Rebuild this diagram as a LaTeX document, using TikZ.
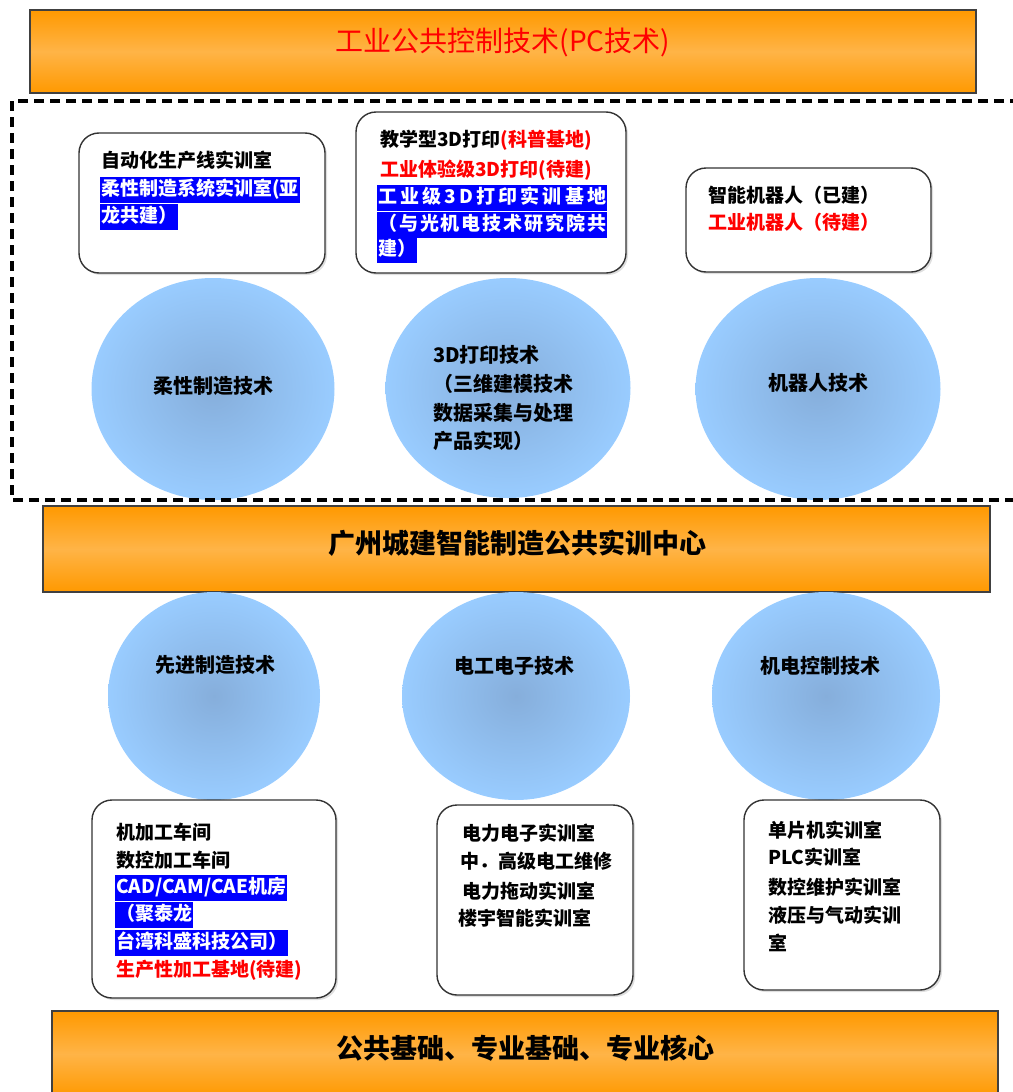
\documentclass[tikz,border=0pt]{standalone}
\usepackage{fontspec}
\setmainfont{Noto Sans CJK SC}
\usetikzlibrary{shapes.geometric,shadows}
\definecolor{barA}{HTML}{FF9900}
\definecolor{barB}{HTML}{FFB447}
\definecolor{ballout}{HTML}{99CCFF}
\definecolor{ballin}{HTML}{86AEDB}
\definecolor{hlblue}{HTML}{0000FF}
\definecolor{redtext}{HTML}{FF0000}
\tikzset{
  bar/.style={draw=black!75, line width=1.2pt, top color=barA, bottom color=barA, middle color=barB, inner sep=0pt},
  bartext/.style={inner sep=0pt, font=\fontsize{27}{30}\selectfont\bfseries},
  ball/.style={ellipse, inner color=ballin, outer color=ballout, draw=none, inner sep=0pt},
  roombox/.style={draw=black!80, line width=1.4pt, rounded corners=20pt, fill=white, inner sep=0pt,
    drop shadow={shadow xshift=2pt, shadow yshift=-2pt, opacity=0.25}},
  txt/.style={anchor=west, inner sep=0pt, font=\fontsize{19}{23}\selectfont\bfseries},
  redline/.style={txt, text=redtext},
  hl/.style={txt, fill=hlblue, text=white, inner xsep=1pt, inner ysep=3pt, text height=15pt, text depth=5pt},
  balltext/.style={inner sep=0pt, font=\fontsize{20}{24}\selectfont\bfseries},
  balltextl/.style={balltext, anchor=west},
  dashline/.style={draw=black, line width=3.4pt, dash pattern=on 10pt off 6pt},
}
\begin{document}
\begin{tikzpicture}[x=1pt, y=-1pt]
\useasboundingbox (0,0) rectangle (1012,1092);

% top bar
\node[bar, minimum width=946pt, minimum height=83pt] (topbar) at (503,51.5) {};
\node[bartext, text=redtext, font=\fontsize{28}{30}\selectfont] (toptext) at (503,42) {工业公共控制技术(PC技术)};

% upper circles
\node[ball, minimum width=243pt, minimum height=222pt] (c1) at (213,389) {};
\node[ball, minimum width=245pt, minimum height=220pt] (c2) at (508,388) {};
\node[ball, minimum width=245pt, minimum height=222pt] (c3) at (818,389) {};
\node[balltext] (c1t) at (213,386) {柔性制造技术};
\node[balltextl] (c2t1) at (433,355) {3D打印技术};
\node[balltextl] (c2t2) at (433,384) {（三维建模技术};
\node[balltextl] (c2t3) at (433,413) {数据采集与处理};
\node[balltextl] (c2t4) at (433,441) {产品实现）};
\node[balltext] (c3t) at (818,383) {机器人技术};

% upper boxes
\node[roombox, minimum width=246pt, minimum height=140pt] (b1) at (202,203) {};
\node[roombox, minimum width=270pt, minimum height=161pt] (b2) at (491,192.5) {};
\node[roombox, minimum width=245pt, minimum height=104pt] (b3) at (808.5,220) {};

\node[txt] (b1l1) at (101,160) {自动化生产线实训室};
\node[hl] (b1l2) at (100,190) {柔性制造系统实训室(亚};
\node[hl] (b1l3) at (100,217) {龙共建）};

\node[txt] (b2l1) at (380,140) {教学型3D打印\textcolor{redtext}{(科普基地)}};
\node[redline] (b2l2) at (380,170) {工业体验级3D打印(待建)};
\node[hl] (b2l3) at (377,198) {\makebox[228pt][s]{工\hfill 业\hfill 级\hfill 3\hfill D\hfill 打\hfill 印\hfill 实\hfill 训\hfill 基\hfill 地}};
\node[hl] (b2l4) at (377,225) {\makebox[228pt][s]{（\hfill 与\hfill 光\hfill 机\hfill 电\hfill 技\hfill 术\hfill 研\hfill 究\hfill 院\hfill 共}};
\node[hl] (b2l5) at (377,250) {建）};

\node[txt] (b3l1) at (708,195) {智能机器人（已建）};
\node[redline] (b3l2) at (708,222) {工业机器人（待建）};

% dashed frame
\draw[dashline] (1020,101) -- (12,101) -- (12,500) -- (1020,500);

% middle bar
\node[bar, minimum width=947pt, minimum height=86pt] (midbar) at (516.5,549) {};
\node[bartext] (midtext) at (517,543) {广州城建智能制造公共实训中心};

% lower circles
\node[ball, minimum width=212pt, minimum height=208pt] (d1) at (214,696) {};
\node[ball, minimum width=228pt, minimum height=208pt] (d2) at (516,696) {};
\node[ball, minimum width=228pt, minimum height=208pt] (d3) at (826,696) {};
\node[balltext] (d1t) at (215,665) {先进制造技术};
\node[balltext] (d2t) at (514,666) {电工电子技术};
\node[balltext] (d3t) at (820,666) {机电控制技术};

% lower boxes
\node[roombox, minimum width=244pt, minimum height=198pt] (b4) at (214,899) {};
\node[roombox, minimum width=196pt, minimum height=190pt] (b5) at (535,900) {};
\node[roombox, minimum width=196pt, minimum height=190pt] (b6) at (842,895) {};

\node[txt] (b4l1) at (116,832) {机加工车间};
\node[txt] (b4l2) at (116,860) {数控加工车间};
\node[hl] (b4l3) at (115,888) {CAD/CAM/CAE机房};
\node[hl] (b4l4) at (115,915) {（聚泰龙};
\node[hl] (b4l5) at (115,943) {台湾科盛科技公司）};
\node[redline] (b4l6) at (116,970) {生产性加工基地(待建)};

\node[txt] (b5l1) at (462,833) {电力电子实训室};
\node[txt] (b5l2) at (460,861) {中．高级电工维修};
\node[txt] (b5l3) at (462,891) {电力拖动实训室};
\node[txt] (b5l4) at (458,918) {楼宇智能实训室};

\node[txt] (b6l1) at (768,830) {单片机实训室};
\node[txt] (b6l2) at (768,857) {PLC实训室};
\node[txt] (b6l3) at (768,887) {数控维护实训室};
\node[txt] (b6l4) at (768,915) {液压与气动实训};
\node[txt] (b6l5) at (768,943) {室};

% bottom bar
\node[bar, minimum width=946pt, minimum height=86pt] (botbar) at (525,1054) {};
\node[bartext] (bottext) at (525,1048) {公共基础、专业基础、专业核心};
\end{tikzpicture}
\end{document}
